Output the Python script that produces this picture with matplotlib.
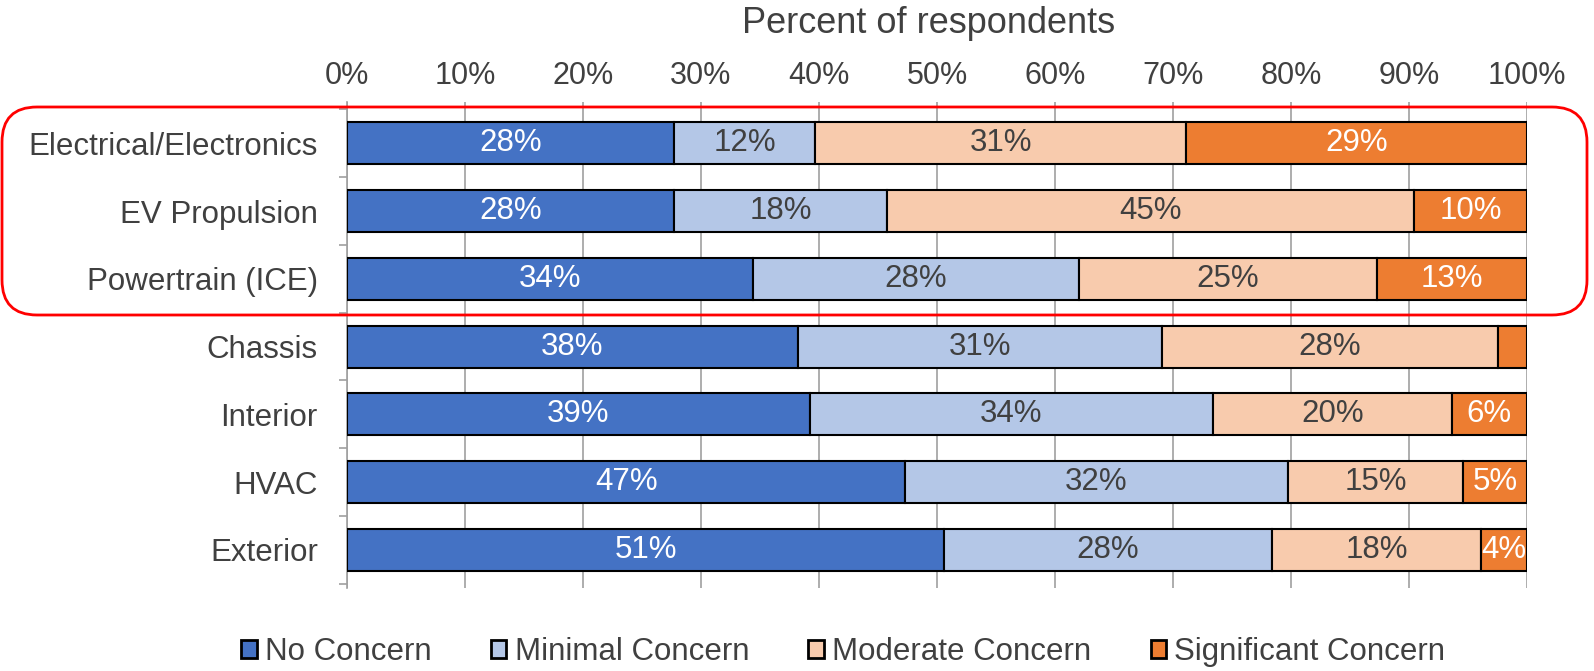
import numpy as np
import matplotlib
matplotlib.use("Agg")
import matplotlib.pyplot as plt
from matplotlib.patches import FancyBboxPatch
from matplotlib.ticker import FuncFormatter

plt.rcParams['font.family'] = ['Liberation Sans', 'DejaVu Sans']

categories = ["Electrical/Electronics", "EV Propulsion", "Powertrain (ICE)",
              "Chassis", "Interior", "HVAC", "Exterior"]
series_names = ["No Concern", "Minimal Concern", "Moderate Concern", "Significant Concern"]
no_concern = [27.7, 27.7, 34.4, 38.2, 39.2, 47.3, 50.6]
minimal_concern = [12.0, 18.1, 27.6, 30.9, 34.2, 32.4, 27.8]
moderate_concern = [31.4, 44.6, 25.3, 28.4, 20.2, 14.9, 17.7]
significant_concern = [28.9, 9.6, 12.7, 2.5, 6.4, 5.4, 3.9]

colors = ["#4472C4", "#B4C7E7", "#F8CBAD", "#ED7D31"]
text_colors = ["white", "#404040", "#404040", "white"]
gray = "#404040"
fs = 22.5

fig = plt.figure(figsize=(15.94, 6.71), dpi=100)
ax = fig.add_axes([0.2177, 0.124, 0.7403, 0.724])

y = np.arange(len(categories))
left = np.zeros(len(categories))
for name, vals, c, tc in zip(series_names,
                             [no_concern, minimal_concern, moderate_concern, significant_concern],
                             colors, text_colors):
    vals = np.array(vals)
    ax.barh(y, vals, left=left, height=0.62, color=c, edgecolor="black",
            linewidth=1.5, label=name, zorder=3)
    for yi, l, v in zip(y, left, vals):
        if v >= 3:
            ax.text(l + v / 2, yi, f"{round(v):.0f}%", ha="center", va="center",
                    color=tc, fontsize=fs, zorder=4)
    left += vals

ax.set_xlim(0, 100)
ax.set_ylim(6.56, -0.61)
ax.set_xticks(np.arange(0, 101, 10))
ax.xaxis.set_major_formatter(FuncFormatter(lambda v, p: f"{v:.0f}%"))
ax.xaxis.tick_top()
ax.xaxis.set_label_position("top")
ax.tick_params(axis="x", length=0, labelsize=22, labelcolor=gray, pad=8)
ax.set_xlabel("Percent of respondents", fontsize=26, color=gray, labelpad=20, x=0.493)
ax.grid(axis="x", color="#a0a0a0", linewidth=1.2, zorder=0)

ax.set_yticks(y)
ax.set_yticklabels(categories)
ax.set_yticks(np.arange(-0.5, 7, 1), minor=True)
ax.tick_params(axis="y", which="major", length=0, labelsize=fs, labelcolor=gray, pad=21)
ax.tick_params(axis="y", which="minor", length=6, color="#a0a0a0", width=1.2)

for s in ["top", "right", "bottom"]:
    ax.spines[s].set_visible(False)
ax.spines["left"].set_color("#a0a0a0")
ax.spines["left"].set_linewidth(1.2)

leg = fig.legend(loc="center", bbox_to_anchor=(0.529, 0.028), ncol=4, frameon=False,
                 fontsize=fs, handlelength=0.5, handleheight=0.5, handletextpad=0.26,
                 columnspacing=1.9, labelcolor=gray)
for h in leg.legend_handles:
    h.set_linewidth(2)

box = FancyBboxPatch((0.02, 3.56), 15.85, 2.08,
                     boxstyle="round,pad=0,rounding_size=0.35",
                     transform=fig.dpi_scale_trans, fill=False,
                     edgecolor="red", linewidth=2, zorder=10)
fig.patches.append(box)

fig.savefig("out.png", dpi=100)
